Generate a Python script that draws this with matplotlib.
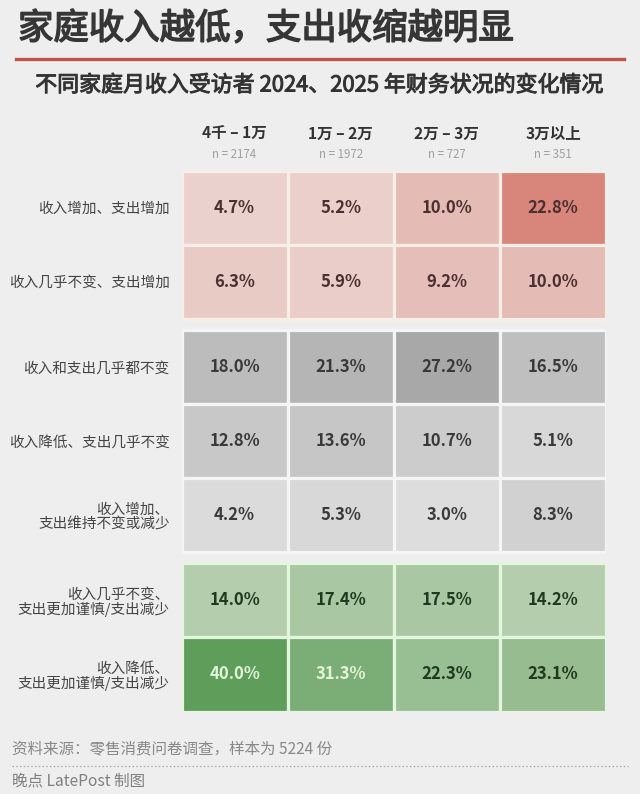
import matplotlib
matplotlib.use("Agg")
import matplotlib.pyplot as plt
import matplotlib.patheffects as pe
from matplotlib.colors import LinearSegmentedColormap, Normalize
from matplotlib.patches import Rectangle
from matplotlib.transforms import blended_transform_factory
from matplotlib.lines import Line2D

plt.rcParams['font.family'] = ['Noto Sans CJK SC', 'DejaVu Sans']

title = "家庭收入越低，支出收缩越明显"
subtitle = "不同家庭月收入受访者 2024、2025 年财务状况的变化情况"
columns = ["4千 – 1万", "1万 – 2万", "2万 – 3万", "3万以上"]
sample_sizes = ["n = 2174", "n = 1972", "n = 727", "n = 351"]
row_labels = [
    "收入增加、支出增加",
    "收入几乎不变、支出增加",
    "收入和支出几乎都不变",
    "收入降低、支出几乎不变",
    "收入增加、\n支出维持不变或减少",
    "收入几乎不变、\n支出更加谨慎/支出减少",
    "收入降低、\n支出更加谨慎/支出减少",
]
row_groups = [0, 0, 1, 1, 1, 2, 2]
values = [
    [4.7, 5.2, 10.0, 22.8],
    [6.3, 5.9, 9.2, 10.0],
    [18.0, 21.3, 27.2, 16.5],
    [12.8, 13.6, 10.7, 5.1],
    [4.2, 5.3, 3.0, 8.3],
    [14.0, 17.4, 17.5, 14.2],
    [40.0, 31.3, 22.3, 23.1],
]
source = "资料来源：零售消费问卷调查，样本为 5224 份"
credit = "晚点 LatePost 制图"

group_colors = [("#ebd1cd", "#d8867b"), ("#dddddd", "#a8a8a8"), ("#b3cdad", "#5f9d5b")]
group_edges = ["#f7eee8", "#f5f5f5", "#e4f6de"]
group_text = ["#4a3030", "#3a3a3a", "#1f3a1f"]
light_text = "#e2f5d6"

W, H = 640, 794
fig = plt.figure(figsize=(W / 100, H / 100), dpi=100)
fig.patch.set_facecolor("#eeeeee")

GAP = 0.155
ypos = [i + GAP * g for i, g in enumerate(row_groups)]

left, right = 181.5, 606.0
top, bottom = 170.5, 711.5
ax = fig.add_axes([left / W, 1 - bottom / H, (right - left) / W, (bottom - top) / H])
ax.set_facecolor("none")
ax.set_xlim(-0.5, len(columns) - 0.5)
ax.set_ylim(ypos[-1] + 0.5, -0.5)
for s in ax.spines.values():
    s.set_visible(False)
ax.set_xticks([])

for g in range(3):
    grp_vals = [v for i, row in enumerate(values) if row_groups[i] == g for v in row]
    cmap = LinearSegmentedColormap.from_list(f"g{g}", list(group_colors[g]))
    norm = Normalize(min(grp_vals), max(grp_vals))
    for i, row in enumerate(values):
        if row_groups[i] != g:
            continue
        for j, v in enumerate(row):
            ax.add_patch(Rectangle((j - 0.5, ypos[i] - 0.5), 1, 1,
                                   facecolor=cmap(norm(v)), edgecolor=group_edges[g],
                                   linewidth=2.3))
            tc = light_text if v > 30 else group_text[g]
            ax.text(j, ypos[i], f"{v:.1f}%", ha="center", va="center",
                    fontsize=12, fontweight="bold", color=tc)

ax.set_yticks(ypos)
ax.set_yticklabels(row_labels, fontsize=10.5, color="#444444", linespacing=1.08)
ax.tick_params(axis="y", length=0, pad=8.5)
for lab in ax.get_yticklabels():
    lab.set_horizontalalignment("right")
    lab.set_multialignment("right")

tr = blended_transform_factory(ax.transData, fig.transFigure)
for j, (c, n) in enumerate(zip(columns, sample_sizes)):
    ax.text(j, 1 - 134 / H, c, transform=tr, ha="center", va="center",
            fontsize=11.2, fontweight="bold", color="#333333")
    ax.text(j, 1 - 155 / H, n, transform=tr, ha="center", va="center",
            fontsize=8.3, color="#a0a0a0")

fig.text(18 / W, 1 - 29 / H, title, ha="left", va="center",
         fontsize=25.5, fontweight="normal", color="#363636",
         path_effects=[pe.withStroke(linewidth=1.1, foreground="#363636")])
fig.add_artist(Line2D([16 / W, 624 / W], [1 - 58.5 / H, 1 - 58.5 / H],
                      color="#c0524a", linewidth=2.4))
fig.text(320 / W, 1 - 85.5 / H, subtitle, ha="center", va="center",
         fontsize=15.8, fontweight="normal", color="#333333",
         path_effects=[pe.withStroke(linewidth=0.7, foreground="#333333")])

fig.text(12 / W, 1 - 750 / H, source, ha="left", va="center",
         fontsize=11.2, color="#888888")
fig.add_artist(Line2D([12 / W, 628 / W], [1 - 766 / H, 1 - 766 / H],
                      color="#aaaaaa", linewidth=0.9, linestyle=(0, (1.2, 1.8))))
fig.text(12 / W, 1 - 781 / H, credit, ha="left", va="center",
         fontsize=11.2, color="#808080")

fig.savefig("out.png", dpi=100, facecolor=fig.get_facecolor())
